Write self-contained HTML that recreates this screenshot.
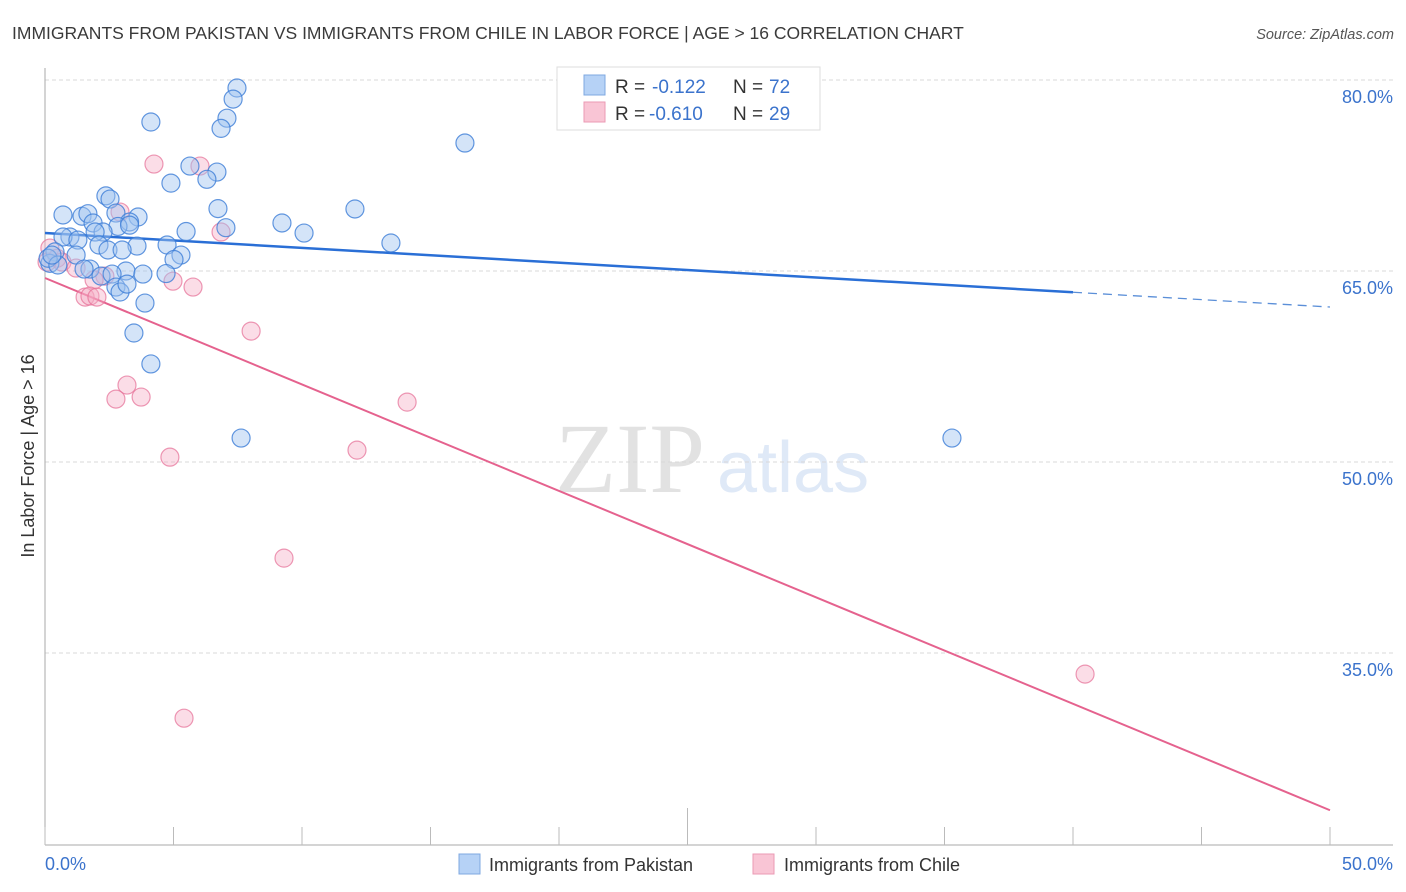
<!DOCTYPE html>
<html><head><meta charset="utf-8"><style>
body{margin:0;background:#fff;font-family:"Liberation Sans",sans-serif;}
#wrap{position:relative;width:1406px;height:892px;overflow:hidden;}
svg text{font-family:"Liberation Sans",sans-serif;}
</style></head><body>
<div id="wrap">
<svg id="chart" width="1406" height="892">
<text x="12" y="39" font-size="17.5" fill="#3a3a3a">IMMIGRANTS FROM PAKISTAN VS IMMIGRANTS FROM CHILE IN LABOR FORCE | AGE &gt; 16 CORRELATION CHART</text>
<text x="1394" y="39" font-size="14.5" fill="#555" font-style="italic" text-anchor="end">Source: ZipAtlas.com</text>
<text x="555" y="492" font-size="100" fill="#e2e2e2" font-family="Liberation Serif" style="font-family:'Liberation Serif',serif">ZIP</text>
<text x="717" y="492" font-size="72" fill="#dfe9f7">atlas</text>
<g id="grid"></g><g id="axes"></g><g id="lines"></g><g id="pts"></g>
<text transform="translate(34,456) rotate(-90)" font-size="18" fill="#333" text-anchor="middle">In Labor Force | Age &gt; 16</text>
<g>
<rect x="557" y="67" width="263" height="63" fill="#fff" stroke="#ddd"/>
<rect x="584" y="75" width="21" height="20" fill="#b6d2f6" stroke="#7fa8e0"/>
<rect x="584" y="102" width="21" height="20" fill="#f9c5d5" stroke="#eb9ab4"/>
<text x="615" y="93" font-size="19" fill="#333">R = </text><text x="652" y="93" font-size="19" fill="#3b73cc">-0.122</text>
<text x="733" y="93" font-size="19" fill="#333">N = </text><text x="769" y="93" font-size="19" fill="#3b73cc">72</text>
<text x="615" y="120" font-size="19" fill="#333">R = </text><text x="649" y="120" font-size="19" fill="#3b73cc">-0.610</text>
<text x="733" y="120" font-size="19" fill="#333">N = </text><text x="769" y="120" font-size="19" fill="#3b73cc">29</text>
</g>
<g>
<rect x="459" y="854" width="21" height="20" fill="#b6d2f6" stroke="#7fa8e0"/>
<text x="489" y="871" font-size="18" fill="#333">Immigrants from Pakistan</text></g>
<g>
<rect x="753" y="854" width="21" height="20" fill="#f9c5d5" stroke="#eb9ab4"/>
<text x="784" y="871" font-size="18" fill="#333">Immigrants from Chile</text></g>
</svg></div>
<script>
const yTicks=[80,65,50,35];
const yTickLabels=["80.0%","65.0%","50.0%","35.0%"];
const xTickLabels=["0.0%","50.0%"];
const pakX=[7.47,7.32,7.08,6.85,4.12,16.34,5.64,6.69,6.30,4.90,2.37,2.53,6.73,12.06,0.70,1.44,1.67,2.76,3.62,3.29,1.87,2.84,3.29,9.22,7.04,5.49,10.08,2.26,1.95,0.97,0.70,1.28,2.10,3.58,4.75,13.46,2.45,3.00,0.39,1.21,5.29,5.02,0.19,1.75,1.52,4.71,2.18,3.15,3.81,2.61,2.76,2.92,3.19,3.89,3.46,4.12,7.63,35.29,0.12,0.50,0.27];
const pakY=[79.37,78.5,77.0,76.2,76.7,75.05,73.24,72.77,72.2,71.9,70.9,70.65,69.9,69.87,69.4,69.3,69.5,69.55,69.24,68.85,68.77,68.5,68.6,68.77,68.4,68.1,67.98,68.06,68.06,67.67,67.67,67.43,67.04,66.96,67.04,67.2,66.65,66.65,66.5,66.25,66.25,65.9,65.6,65.15,65.15,64.8,64.6,65.0,64.76,64.76,63.74,63.35,63.97,62.48,60.13,57.7,51.88,51.88,66.0,65.47,66.25];
const chiX=[4.24,6.03,2.92,6.85,0.19,0.47,0.66,1.21,2.33,1.91,4.98,5.76,1.56,1.75,2.02,8.02,3.19,2.76,3.74,14.09,12.14,4.86,9.30,40.47,5.41,0.08];
const chiY=[73.4,73.24,69.63,68.06,66.8,66.0,65.7,65.23,64.6,64.3,64.2,63.74,62.95,63.03,62.95,60.28,56.04,54.94,55.1,54.7,50.93,50.38,42.45,33.34,29.88,65.7];
const pakTrend=[67.98,62.17]; // at x=0 and x=50
const chiTrend=[64.45,22.65];
const NS="http://www.w3.org/2000/svg";
const sx=v=>45+v*25.7, sy=v=>80+(80-v)*12.733;
function mk(tag,attrs,parent){const e=document.createElementNS(NS,tag);for(const k in attrs)e.setAttribute(k,attrs[k]);document.getElementById(parent).appendChild(e);return e;}
yTicks.forEach((t,i)=>{
 const g=mk('line',{x1:45,x2:1393,y1:sy(t),y2:sy(t),stroke:'#d8d8d8','stroke-dasharray':'4,3'},'grid');
 
 
 const l=mk('text',{x:1393,y:sy(t)+23,'font-size':18,fill:'#3b73cc','text-anchor':'end'},'grid');
 l.textContent=yTickLabels[i];
 
 
});
const ya=mk('line',{x1:45,x2:45,y1:68,y2:845,stroke:'#aaa'},'axes');


const xa=mk('line',{x1:45,x2:1393,y1:845,y2:845,stroke:'#aaa'},'axes');


for(let i=0;i<=10;i++){const t=mk('line',{x1:sx(i*5),x2:sx(i*5),y1:845,y2:i==5?808:827,stroke:'#bbb'},'axes');
 
 }
[[0,'start',45],[50,'end',1393]].forEach((d,i)=>{const t=mk('text',{x:d[2],y:870,'font-size':18,fill:'#3b73cc','text-anchor':d[1]},'axes');t.textContent=xTickLabels[i];
 
 });
function ty(tr,x){return tr[0]+(tr[1]-tr[0])*x/50;}
const b1=mk('line',{x1:sx(0),y1:sy(ty(pakTrend,0)),x2:sx(40),y2:sy(ty(pakTrend,40)),stroke:'#2a6fd6','stroke-width':2.5},'lines');


const b2=mk('line',{x1:sx(40),y1:sy(ty(pakTrend,40)),x2:sx(50),y2:sy(ty(pakTrend,50)),stroke:'#5b8fd8','stroke-width':1.3,'stroke-dasharray':'9,6'},'lines');


const c1=mk('line',{x1:sx(0),y1:sy(ty(chiTrend,0)),x2:sx(50),y2:sy(ty(chiTrend,50)),stroke:'#e5628e','stroke-width':2},'lines');


chiX.forEach((x,i)=>{const c=mk('circle',{cx:sx(x),cy:sy(chiY[i]),r:9,fill:'rgba(244,170,195,0.4)',stroke:'rgba(229,110,150,0.7)','stroke-width':1.2},'pts');
 
 });
pakX.forEach((x,i)=>{const c=mk('circle',{cx:sx(x),cy:sy(pakY[i]),r:9,fill:'rgba(160,196,240,0.45)',stroke:'rgba(60,125,215,0.8)','stroke-width':1.2},'pts');
 
 });
</script>
</body></html>
